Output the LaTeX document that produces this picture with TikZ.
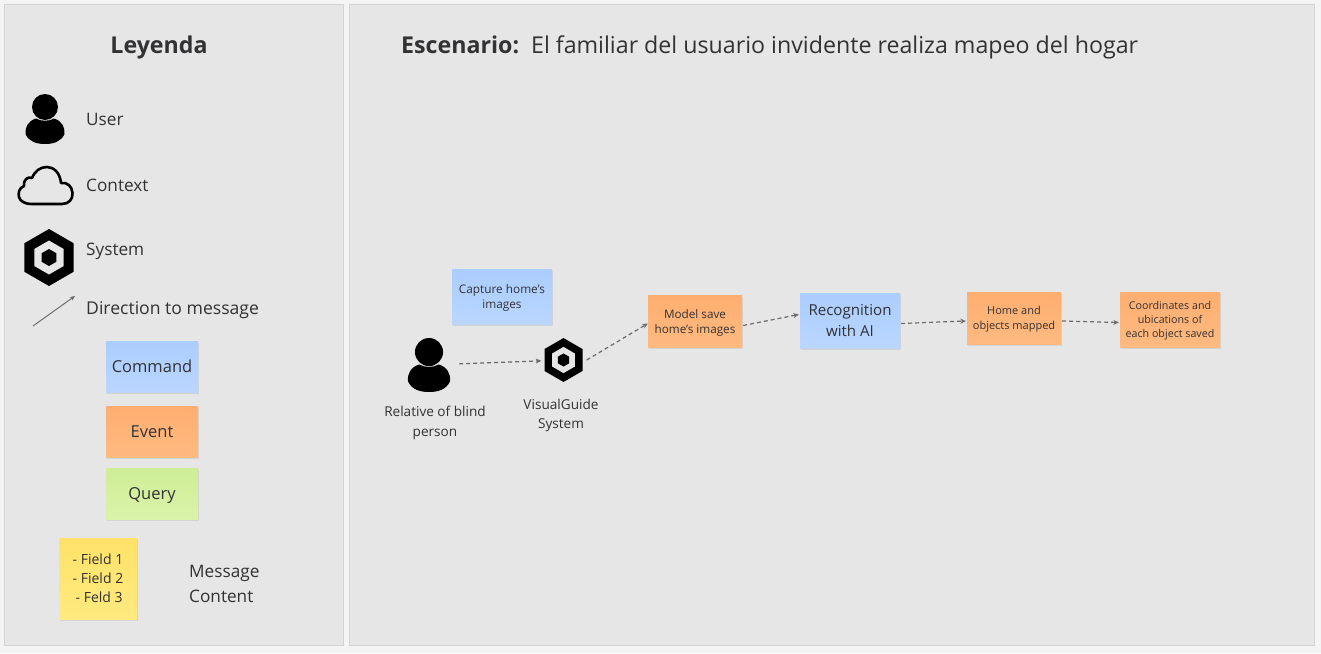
\documentclass[tikz,border=0pt]{standalone}
\usepackage{xcolor}
\usepackage{fontspec}
\setmainfont{Open Sans}
\usetikzlibrary{shapes.geometric, arrows.meta, positioning, shadows}
\definecolor{pagegray}{RGB}{244, 244, 244}
\definecolor{panelgray}{RGB}{230, 230, 230}
\definecolor{panelline}{RGB}{212, 212, 212}
\definecolor{inkgray}{RGB}{50, 50, 52}
\definecolor{commandtop}{RGB}{171, 205, 255}
\definecolor{commandbot}{RGB}{186, 214, 255}
\definecolor{eventtop}{RGB}{255, 174, 112}
\definecolor{eventbot}{RGB}{255, 186, 128}
\definecolor{querytop}{RGB}{206, 238, 150}
\definecolor{querybot}{RGB}{218, 243, 170}
\definecolor{fieldtop}{RGB}{255, 226, 104}
\definecolor{fieldbot}{RGB}{255, 234, 128}
\newcommand{\fs}[1]{\fontsize{#1}{#1}\selectfont}

\begin{document}
\begin{tikzpicture}[
    x=1pt, y=-1pt,
    panel/.style={rectangle, draw=panelline, line width=1.2pt, fill=panelgray, anchor=north west, inner sep=0pt},
    sticky/.style={rectangle, text=inkgray, align=center, inner sep=0pt, text depth=0pt,
                   drop shadow={shadow xshift=1pt, shadow yshift=-1.5pt, opacity=0.18}},
    command/.style={sticky, top color=commandtop, bottom color=commandbot},
    event/.style={sticky, top color=eventtop, bottom color=eventbot},
    query/.style={sticky, top color=querytop, bottom color=querybot},
    field/.style={sticky, top color=fieldtop, bottom color=fieldbot},
    label/.style={text=inkgray, anchor=west, inner sep=0pt, align=left},
    caption/.style={text=inkgray, align=center, inner sep=0pt},
    iconbox/.style={rectangle, inner sep=0pt, minimum height=40pt},
    flow/.style={-{Stealth[length=5.5pt, width=5pt]}, draw=black!58, line width=1.2pt, dash pattern=on 4pt off 3pt},
    usericon/.pic={
        \fill[black] (0,-12) circle (13);
        \fill[black] (-19.5,15) .. controls (-20,8) and (-17,2) .. (-9,-0.5)
            .. controls (-4,2.5) and (4,2.5) .. (9,-0.5)
            .. controls (17,2) and (20,8) .. (19.5,15)
            .. controls (16,23) and (8,25) .. (0,25)
            .. controls (-8,25) and (-16,23) .. (-19.5,15) -- cycle;
    },
    systemicon/.pic={
        \fill[black] (90:28.5) -- (30:28.5) -- (-30:28.5) -- (-90:28.5) -- (-150:28.5) -- (150:28.5) -- cycle;
        \fill[panelgray] (90:17) -- (30:17) -- (-30:17) -- (-90:17) -- (-150:17) -- (150:17) -- cycle;
        \fill[black] (90:8.5) -- (30:8.5) -- (-30:8.5) -- (-90:8.5) -- (-150:8.5) -- (150:8.5) -- cycle;
    }
]
    \useasboundingbox (0,0) rectangle (1321,653);
    \fill[pagegray] (0,0) rectangle (1321,653);

    % Panels
    \node[panel, minimum width=339pt, minimum height=641pt] (legendpanel) at (4,4) {};
    \node[panel, minimum width=965pt, minimum height=641pt] (scenepanel) at (349,4) {};

    % Titles
    \node[caption, font=\fs{23.2}\bfseries] (legendtitle) at (159,47) {Leyenda};
    \node[label, font=\fs{23.2}] (scenetitle) at (401,47) {\textbf{Escenario:}\, El familiar del usuario invidente realiza mapeo del hogar};

    % Legend icons
    \pic at (45,119) {usericon};
    \node[label, font=\fs{17.2}] (userlabel) at (86,119.5) {User};
    \draw[black, line width=2.6pt, line join=round] (31,204) -- (62,204)
        .. controls (69,204) and (73,199) .. (72.5,193)
        .. controls (72,186) and (67,182) .. (61,183)
        .. controls (60,173) and (54,167) .. (47,167)
        .. controls (40,167) and (35,171) .. (32,178)
        .. controls (28,176) and (23,180) .. (24,186)
        .. controls (19,188) and (18,193) .. (19,197)
        .. controls (20,201) and (25,204) .. (31,204) -- cycle;
    \node[label, font=\fs{17.2}] (contextlabel) at (86,185) {Context};
    \pic at (49,257.5) {systemicon};
    \node[label, font=\fs{17.2}] (systemlabel) at (86,251.5) {System};
    \coordinate (dirstart) at (33,326);
    \coordinate (dirend) at (75,296);
    \draw[-{Stealth[length=5pt, width=4pt]}, draw=black!60, line width=0.9pt] (dirstart) -- (dirend);
    \node[label, font=\fs{17.6}] (directionlabel) at (86,310) {Direction to message};

    % Legend stickies
    \node[command, minimum width=92pt, minimum height=51pt, font=\fs{16.5}] (legcommand) at (152,366.5) {Command};
    \node[event, minimum width=92pt, minimum height=51pt, font=\fs{16.5}] (legevent) at (152,431.5) {Event};
    \node[query, minimum width=92pt, minimum height=51pt, font=\fs{16.5}] (legquery) at (152,493.5) {Query};
    \node[field, minimum width=78pt, minimum height=81pt, font=\fs{14}, align=center] (legfield) at (98,578.5)
        {- Field 1\\[5pt]- Field 2\\[5pt]\,- Feld 3};
    \node[label, font=\fs{17.2}, align=left] (fieldlabel) at (189,584) {Message\\[7pt]Content};

    % Flow nodes
    \pic[scale=1.08] at (429,365) {usericon};
    \node[iconbox, minimum width=60pt] (relative) at (429,365) {};
    \node[caption, font=\fs{13.6}] (relativelabel) at (435,423) {Relative of blind\\[6.4pt]person};
    \pic[scale=0.77] at (563.5,360) {systemicon};
    \node[iconbox, minimum width=44pt] (system) at (563.5,360) {};
    \node[caption, font=\fs{13.6}] (systemcaption) at (561,415.5) {VisualGuide\\[6pt]System};
    \node[command, minimum width=100pt, minimum height=55pt, font=\fs{11.8}] (capture) at (502,296.5) {Capture home's\\[4pt]images};
    \node[event, minimum width=94pt, minimum height=52pt, font=\fs{11.7}] (model) at (695,321.5) {Model save\\[4pt]home's images};
    \node[command, minimum width=100pt, minimum height=55pt, font=\fs{15.1}] (recognition) at (850,320.5) {Recognition\\[5pt]with AI};
    \node[event, minimum width=94pt, minimum height=52pt, font=\fs{11}] (mapped) at (1014,318) {Home and\\[4pt]objects mapped};
    \node[event, minimum width=100pt, minimum height=55pt, font=\fs{10.7}] (saved) at (1170,319.5) {Coordinates and\\[3.5pt]ubications of\\[3.5pt]each object saved};

    % Arrows
    \draw[flow] (relative) -- (system);
    \draw[flow] ([xshift=1pt]system.east) -- ([yshift=-2pt]model.west);
    \draw[flow] ([xshift=1pt,yshift=-4pt]model.east) -- ([xshift=-1pt,yshift=6pt]recognition.west);
    \draw[flow] ([xshift=1pt,yshift=-3pt]recognition.east) -- ([xshift=-1pt,yshift=-3pt]mapped.west);
    \draw[flow] ([xshift=1pt,yshift=-3pt]mapped.east) -- ([xshift=-1pt,yshift=-3pt]saved.west);
\end{tikzpicture}
\end{document}
